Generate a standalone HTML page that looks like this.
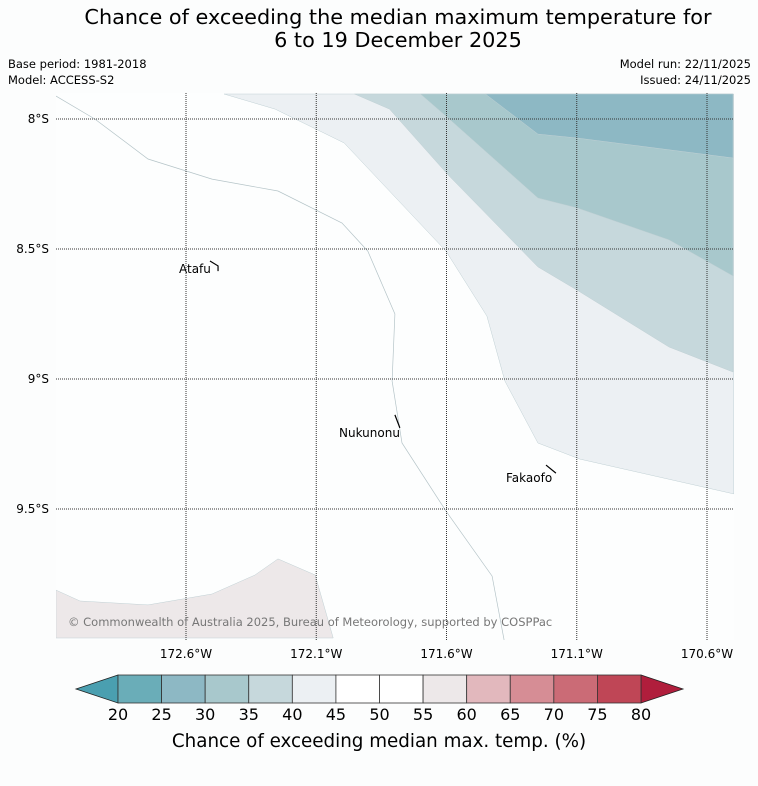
<!DOCTYPE html>
<html><head><meta charset="utf-8"><style>
body{margin:0;background:#fcfdfd;font-family:"Liberation Sans","DejaVu Sans",sans-serif;}
svg text{font-family:"DejaVu Sans","Liberation Sans",sans-serif;}
</style></head><body>
<svg id="c" width="758" height="781" viewBox="0 0 758 781" xmlns="http://www.w3.org/2000/svg">
<text x="398" y="24" text-anchor="middle" font-size="20.8">Chance of exceeding the median maximum temperature for</text>
<text x="398" y="47" text-anchor="middle" font-size="20.8">6 to 19 December 2025</text>
<text x="8" y="68" font-size="11.5">Base period: 1981-2018</text>
<text x="8" y="84" font-size="11.5">Model: ACCESS-S2</text>
<text x="751" y="68" font-size="11.5" text-anchor="end">Model run: 22/11/2025</text>
<text x="751" y="84" font-size="11.5" text-anchor="end">Issued: 24/11/2025</text>
<defs><clipPath id="mc"><rect x="56" y="93" width="678" height="547"/></clipPath></defs>
<rect x="56" y="93" width="678" height="547" fill="#fdfefe"/>
<g id="map" clip-path="url(#mc)"></g>
<g id="grid"></g>
<g id="cbar"></g>
<text x="68" y="626" font-size="11.5" fill="#777">© Commonwealth of Australia 2025, Bureau of Meteorology, supported by COSPPac</text>
<text x="379" y="747" text-anchor="middle" font-size="18.3">Chance of exceeding median max. temp. (%)</text>
</svg>
<script>
// longitudes in degrees W, latitudes in degrees S
const lonTicks=[172.6,172.1,171.6,171.1,170.6];
const latTicks=[8,8.5,9,9.5];
const cbLevels=[20,25,30,35,40,45,50,55,60,65,70,75,80];
const cbColors=["#6aadb8","#8db8c4","#a8c8cc","#c6d8dc","#ecf0f3","#ffffff","#ffffff","#ede8e9","#e2b8bd","#d68d95","#cb6b76","#bf4656"];
const contourNames=["band-40-45","band-35-40","band-30-35","band-25-30","band-55-60"];
const contourColors=["#ecf0f3","#c6d8dc","#a8c8cc","#8db8c4","#ede8e9"];
const contourLon=[
[172.454,172.258,171.993,171.602,171.445,171.376,171.249,171.088,170.497,170.497],
[171.953,171.819,171.594,171.249,171.099,170.746,170.500,170.500],
[171.700,171.594,171.249,171.099,170.746,170.500,170.500],
[171.451,171.249,171.099,170.500,170.500],
[173.099,173.007,172.746,172.500,172.335,172.247,172.104,172.035,173.099]];
const contourLat=[
[7.904,7.962,8.092,8.508,8.758,9.008,9.246,9.308,9.442,7.904],
[7.904,7.962,8.215,8.569,8.658,8.877,8.973,7.904],
[7.904,7.996,8.304,8.342,8.465,8.604,7.904],
[7.904,8.058,8.073,8.150,7.904],
[9.812,9.854,9.869,9.827,9.754,9.692,9.754,9.996,9.996]];
const lineLon=[173.099,172.950,172.746,172.500,172.247,172.001,171.902,171.798,171.809,171.771,171.602,171.425,171.379];
const lineLat=[7.912,8.000,8.154,8.231,8.277,8.400,8.508,8.750,9.008,9.246,9.508,9.758,10.004];
const islands=[["Atafu",172.508,8.546,172.477,8.565,172.477,8.585,179,273],["Nukunonu",171.798,9.138,171.779,9.188,171.779,9.188,339,437],["Fakaofo",171.218,9.331,171.180,9.362,171.180,9.362,506,482]];
const X=lon=>186+(172.6-lon)*260.5, Y=lat=>119+(lat-8)*260;
const NS="http://www.w3.org/2000/svg";
function mk(t,a,p){const e=document.createElementNS(NS,t);for(const k in a)e.setAttribute(k,a[k]);p.appendChild(e);return e;}
const map=document.getElementById('map');
contourLon.forEach((lo,i)=>{
 const pts=lo.map((v,j)=>X(v).toFixed(1)+","+Y(contourLat[i][j]).toFixed(1)).join(" ");
 const e=mk('polygon',{points:pts,fill:contourColors[i],stroke:"#c0d0d4","stroke-width":0.5},map);
 
 
});
{const pts=lineLon.map((v,j)=>X(v).toFixed(1)+","+Y(lineLat[j]).toFixed(1)).join(" ");
 const e=mk('polyline',{points:pts,fill:"none",stroke:"#b5c4c8","stroke-width":0.7},map);
 
 }
const grid=document.getElementById('grid');
lonTicks.forEach(l=>{
 const e=mk('line',{x1:X(l),x2:X(l),y1:93,y2:640,stroke:"#333","stroke-width":1,"stroke-dasharray":"1,1"},grid);
 
 
 const t=mk('text',{x:X(l),y:658,"text-anchor":"middle","font-size":12},grid);t.textContent=l.toFixed(1)+"°W";
 
 
});
latTicks.forEach(l=>{
 const e=mk('line',{x1:56,x2:734,y1:Y(l),y2:Y(l),stroke:"#333","stroke-width":1,"stroke-dasharray":"1,1"},grid);
 
 
 const t=mk('text',{x:49,y:Y(l)+4,"text-anchor":"end","font-size":12},grid);t.textContent=(l%1?l.toFixed(1):l)+"°S";
 
 
});
islands.forEach(d=>{
 const e=mk('polyline',{points:`${X(d[1])},${Y(d[2])} ${X(d[3])},${Y(d[4])} ${X(d[5])},${Y(d[6])}`,fill:"none",stroke:"#000","stroke-width":1.2},grid);
 
 
 const t=mk('text',{x:d[7],y:d[8],"font-size":12},grid);t.textContent=d[0];
 
 
});
const cb=document.getElementById('cbar');
const cx0=118,cx1=641,cy0=675,cy1=703;
const CX=v=>cx0+(v-cbLevels[0])*(cx1-cx0)/(cbLevels[cbLevels.length-1]-cbLevels[0]);
{const e=mk('polygon',{points:`${cx0},${cy0} 76,689 ${cx0},${cy1}`,fill:"#4a9fb0",stroke:"#222","stroke-width":0.8},cb);
 
 
 const f=mk('polygon',{points:`${cx1},${cy0} 683,689 ${cx1},${cy1}`,fill:"#b01e3c",stroke:"#222","stroke-width":0.8},cb);
 
 }
cbColors.forEach((c,i)=>{
 const e=mk('rect',{x:CX(cbLevels[i]),y:cy0,width:CX(cbLevels[i+1])-CX(cbLevels[i]),height:cy1-cy0,fill:c,stroke:"#333","stroke-width":0.8},cb);
 
 
});
cbLevels.forEach(v=>{
 const t=mk('text',{x:CX(v),y:720,"text-anchor":"middle","font-size":16},cb);t.textContent=v;
 
 
});
</script>
</body></html>
